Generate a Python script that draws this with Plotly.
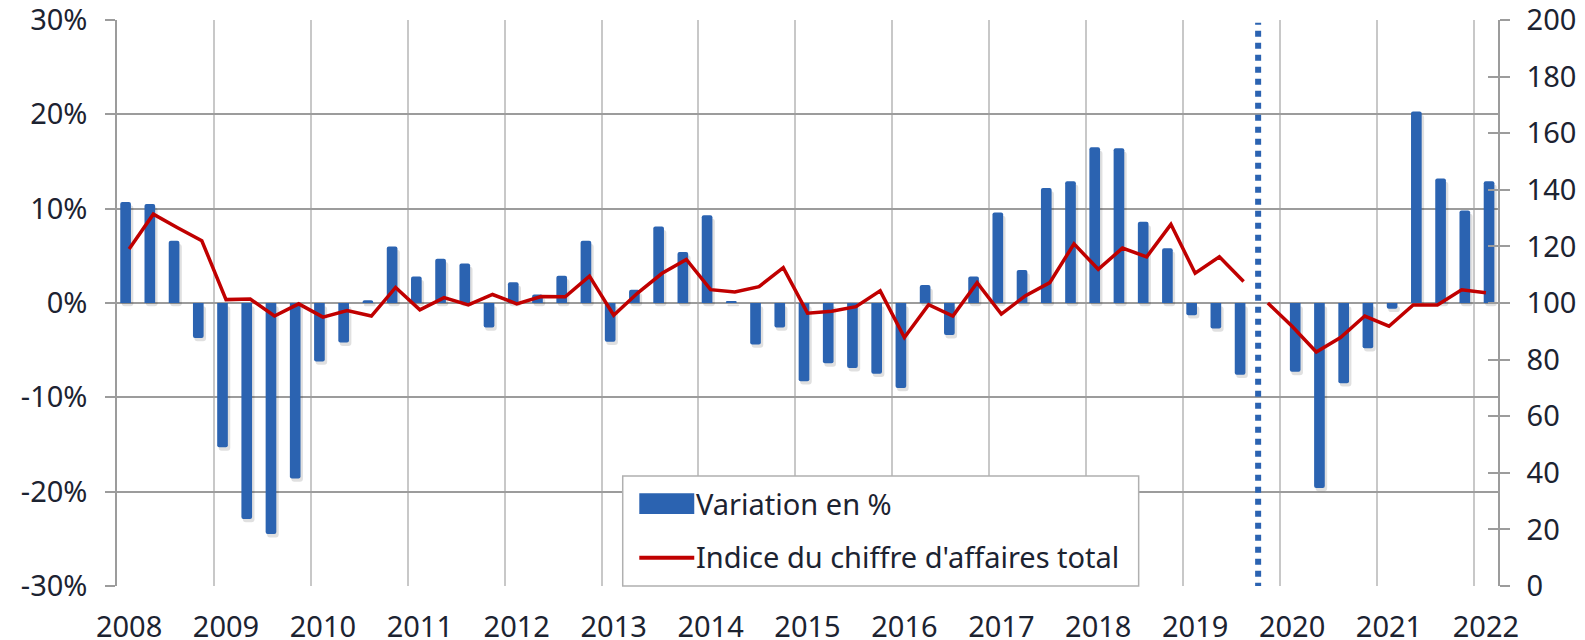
import plotly.graph_objects as go

# ---------------- Data ----------------
annees = list(range(2008, 2023))  # tick labels (years)
trimestres = [f"{a}T{q}" for a in annees for q in range(1, 5)][:57]  # 2008T1 .. 2022T1

# Variation en % (série avant la rupture : 2008T1 - 2019T3)
variation_avant = [
    10.7, 10.5, 6.6, -3.7,
    -15.3, -22.9, -24.5, -18.6,
    -6.2, -4.2, 0.3, 6.0,
    2.8, 4.7, 4.2, -2.6,
    2.2, 0.9, 2.9, 6.6,
    -4.1, 1.4, 8.1, 5.4,
    9.3, 0.2, -4.4, -2.6,
    -8.3, -6.4, -6.9, -7.5,
    -9.0, 1.9, -3.4, 2.8,
    9.6, 3.5, 12.2, 12.9,
    16.5, 16.4, 8.6, 5.8,
    -1.3, -2.7, -7.6,
]
# Variation en % (série après la rupture : 2020T1 - 2022T1)
variation_apres = [-7.3, -19.6, -8.5, -4.8, -0.6, 20.3, 13.2, 9.8, 12.9]

# Indice du chiffre d'affaires total (2008T1 - 2019T3)
indice_avant = [
    119.1, 131.4, 126.6, 122.0,
    101.2, 101.4, 95.4, 99.7,
    95.0, 97.3, 95.4, 105.5,
    97.6, 101.9, 99.3, 103.0,
    99.7, 102.3, 102.2, 109.5,
    95.7, 103.6, 110.5, 115.4,
    104.7, 103.9, 105.8, 112.5,
    96.4, 97.1, 98.7, 104.3,
    87.8, 99.4, 95.4, 107.2,
    96.1, 102.6, 107.2, 120.9,
    111.9, 119.4, 116.3, 127.8,
    110.5, 116.3, 107.6,
]
# Indice (nouvelle base : 2019T4 - 2022T1)
indice_apres = [100.0, 91.8, 82.7, 87.8, 95.4, 91.8, 99.3, 99.3, 104.7, 103.6]

# Axis ticks
pct_ticks = [-30, -20, -10, 0, 10, 20, 30]
pct_labels = [f"{v}%" for v in pct_ticks]
indice_ticks = list(range(0, 201, 20))
indice_labels = [str(v) for v in indice_ticks]

# ---------------- Positions (category indices) ----------------
n_avant = len(indice_avant)
x_var_avant = list(range(len(variation_avant)))
x_ind_avant = list(range(n_avant))
x_ind_apres = list(range(n_avant, n_avant + len(indice_apres)))
x_var_apres = x_ind_apres[1:]
n_total = len(trimestres)

BLUE = "#2b63b1"
RED = "#c00000"
TXT = "#1c2331"
GRID_H = "#9c9c9c"
GRID_V = "#c8c8c8"
FONT = "Noto Sans"

W = 0.44
fig = go.Figure()

# shadows
for xs, vs, off in [(x_var_avant, variation_avant, -0.365), (x_var_apres, variation_apres, -0.09)]:
    fig.add_trace(go.Bar(
        x=xs, y=vs, base=[-0.35] * len(vs), width=W + 0.04, offset=off + 0.06,
        marker=dict(color="rgba(0,0,0,0.12)", line=dict(width=0), cornerradius=3),
        hoverinfo="skip", showlegend=False))

fig.add_trace(go.Bar(
    x=x_var_avant, y=variation_avant, width=W, offset=-0.365,
    marker=dict(color=BLUE, line=dict(width=0), cornerradius=2),
    name="Variation en %", showlegend=False,
    customdata=trimestres[:len(variation_avant)], hovertemplate="%{customdata}: %{y}%<extra></extra>"))
fig.add_trace(go.Bar(
    x=x_var_apres, y=variation_apres, width=W, offset=-0.09,
    marker=dict(color=BLUE, line=dict(width=0), cornerradius=2),
    name="Variation en %", showlegend=False,
    customdata=trimestres[x_var_apres[0]:], hovertemplate="%{customdata}: %{y}%<extra></extra>"))

fig.add_trace(go.Scatter(
    x=x_ind_avant, y=indice_avant, yaxis="y2", mode="lines",
    line=dict(color=RED, width=3.5), name="Indice du chiffre d'affaires total", showlegend=False))
fig.add_trace(go.Scatter(
    x=x_ind_apres, y=indice_apres, yaxis="y2", mode="lines",
    line=dict(color=RED, width=3.5), name="Indice du chiffre d'affaires total", showlegend=False))
# invisible carrier trace so the inner tick marks of the right axis are drawn
fig.add_trace(go.Scatter(
    x=x_ind_apres, y=indice_apres, yaxis="y3", mode="lines", opacity=0,
    line=dict(width=0), hoverinfo="skip", showlegend=False))

# rupture (dotted vertical line between 2019T3 and 2019T4)
rupture_x = n_avant - 0.5 + 0.1
shapes = [dict(type="line", xref="x", yref="y", x0=rupture_x, x1=rupture_x, y0=-30.3, y1=29.7,
               line=dict(color=BLUE, width=6, dash="dot"), layer="above")]

# custom legend box
lx0, lx1, ly0, ly1 = 0.3662, 0.7398, 0.0, 0.1943
shapes.append(dict(type="rect", xref="paper", yref="paper", x0=lx0, x1=lx1, y0=ly0, y1=ly1,
                   fillcolor="white", line=dict(color="#b0b0b0", width=1.5), layer="above"))
shapes.append(dict(type="rect", xref="paper", yref="paper", x0=0.3782, x1=0.4180, y0=0.1272, y1=0.1638,
                   fillcolor=BLUE, line=dict(width=0), layer="above"))
shapes.append(dict(type="line", xref="paper", yref="paper", x0=0.3782, x1=0.4180, y0=0.050, y1=0.050,
                   line=dict(color=RED, width=4), layer="above"))
annotations = [
    dict(xref="paper", yref="paper", x=0.4178, y=0.1466, text="Variation en %", showarrow=False,
         xanchor="left", yanchor="middle", font=dict(family=FONT, size=29, color=TXT)),
    dict(xref="paper", yref="paper", x=0.4178, y=0.052, text="Indice du chiffre d'affaires total",
         showarrow=False, xanchor="left", yanchor="middle", font=dict(family=FONT, size=29, color=TXT)),
]

# The page body has an 8px default margin: the figure is sized so it fits the 1585x640 window.
fig.update_layout(
    width=1577, height=632,
    margin=dict(l=109, r=87, t=12, b=54, autoexpand=False),
    paper_bgcolor="white", plot_bgcolor="white",
    barmode="overlay", showlegend=False,
    font=dict(family=FONT, size=29, color=TXT),
    shapes=shapes, annotations=annotations,
    xaxis=dict(
        range=[-0.5, n_total - 0.5],
        tickmode="array", tickvals=[4 * i for i in range(len(annees))], ticktext=[str(a) for a in annees],
        showgrid=False, zeroline=False, ticks="", ticklabelstandoff=21, ticklabeloverflow="allow",
        showline=False,
        minor=dict(tickmode="array", tickvals=[4 * i - 0.5 for i in range(len(annees))],
                   showgrid=True, gridcolor=GRID_V, gridwidth=1.5, ticks=""),
        tickfont=dict(family=FONT, size=29, color=TXT),
    ),
    yaxis=dict(
        range=[-30, 30], tickmode="array", tickvals=pct_ticks, ticktext=pct_labels,
        showgrid=True, gridcolor=GRID_H, gridwidth=1.5, zeroline=False,
        showline=True, linecolor=GRID_H, linewidth=1.5,
        ticks="outside", ticklen=10, tickcolor=GRID_H, tickwidth=1.5, ticklabelstandoff=12,
        ticklabeloverflow="allow",
        tickfont=dict(family=FONT, size=29, color=TXT),
    ),
    yaxis2=dict(
        range=[0, 200], tickmode="array", tickvals=indice_ticks, ticktext=indice_labels,
        overlaying="y", side="right",
        showgrid=False, zeroline=False,
        showline=True, linecolor=GRID_H, linewidth=1.5,
        ticks="outside", ticklen=10, tickcolor=GRID_H, tickwidth=1.5, ticklabelstandoff=11,
        ticklabeloverflow="allow",
        tickfont=dict(family=FONT, size=29, color=TXT),
    ),
    yaxis3=dict(
        range=[0, 200], tickmode="array", tickvals=indice_ticks, showticklabels=False,
        overlaying="y", side="right", showgrid=False, zeroline=False, showline=False,
        ticks="inside", ticklen=10, tickcolor=GRID_H, tickwidth=1.5,
    ),
)

fig.write_html("out.html")
